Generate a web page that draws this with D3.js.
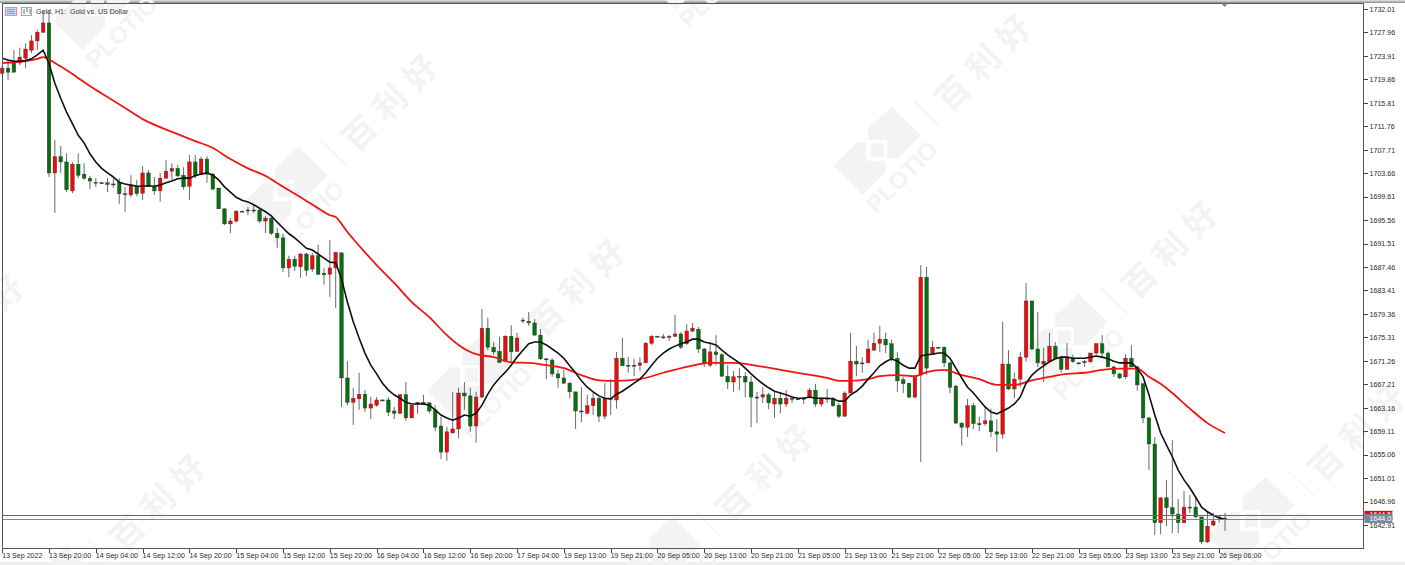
<!DOCTYPE html>
<html>
<head>
<meta charset="utf-8">
<title>Gold, H1</title>
<script src="https://cdnjs.cloudflare.com/ajax/libs/d3/7.8.5/d3.min.js"></script>
<style>
    html, body { margin: 0; padding: 0; background: #fff; overflow: hidden; }
    svg { display: block; }
    .axis text { font-family: "Liberation Sans", sans-serif; font-size: 7.1px; fill: #2a2a2a; }
    .axis path, .axis line { stroke: #444; shape-rendering: crispEdges; }
</style>
</head>
<body>
<svg id="chart" width="1405" height="565"></svg>
<script>
// Hourly bars, oldest first
const opens = [
    1720.9,1721.8,1722.9,1722.7,1723.5,1724.9,1726.5,1728.0,1729.6,1703.7,
    1706.5,1705.6,1700.6,1705.2,1703.5,1702.8,1702.1,1702.0,1702.0,1701.8,
    1702.0,1700.1,1699.9,1701.4,1700.2,1703.7,1701.4,1700.6,1702.8,1704.0,
    1704.5,1703.3,1701.4,1705.6,1703.5,1706.1,1703.5,1701.1,1697.5,1694.9,
    1695.4,1697.1,1697.3,1697.3,1697.3,1695.4,1695.9,1693.3,1692.5,1687.3,
    1688.8,1687.5,1689.7,1687.1,1689.4,1686.4,1686.2,1687.3,1689.9,1668.3,
    1664.1,1664.7,1665.5,1663.1,1663.6,1664.5,1664.5,1662.6,1662.2,1665.4,
    1661.4,1663.8,1664.1,1664.0,1662.8,1660.0,1655.5,1658.8,1659.5,1665.7,
    1665.2,1660.0,1665.0,1676.9,1673.6,1672.9,1671.2,1675.5,1672.9,1678.3,
    1678.1,1677.8,1675.7,1671.6,1671.4,1669.0,1668.3,1667.4,1665.9,1662.6,
    1662.2,1663.5,1664.8,1661.7,1664.8,1664.5,1671.7,1670.5,1670.5,1670.5,
    1670.9,1674.3,1675.5,1675.4,1675.3,1675.5,1675.9,1674.2,1676.4,1676.7,
    1673.3,1670.5,1672.8,1672.3,1668.6,1667.6,1668.5,1668.6,1667.6,1665.0,
    1665.0,1665.4,1663.8,1664.8,1663.8,1664.8,1664.7,1664.8,1665.0,1666.2,
    1663.8,1664.8,1664.7,1663.6,1661.7,1665.7,1671.2,1670.9,1670.9,1673.1,
    1674.3,1675.0,1674.2,1671.7,1668.0,1667.4,1665.0,1668.8,1685.7,1672.4,
    1673.6,1673.6,1670.9,1666.9,1660.5,1659.8,1663.5,1660.4,1660.4,1660.9,
    1659.0,1658.6,1670.7,1666.4,1668.1,1671.9,1681.6,1673.3,1670.7,1671.2,
    1673.8,1671.7,1669.8,1671.6,1670.9,1671.1,1671.1,1672.6,1674.2,1672.6,
    1670.2,1669.0,1668.5,1671.7,1670.2,1667.3,1661.4,1656.9,1643.3,1647.6,
    1645.9,1644.8,1643.3,1646.0,1646.0,1644.3,1640.0,1642.9,1644.3,1644.1
];
const highs = [
    1722.2,1723.2,1724.9,1725.3,1726.1,1727.5,1728.4,1731.8,1731.8,1709.4,
    1708.4,1707.1,1705.6,1707.1,1705.4,1703.2,1702.8,1702.2,1702.8,1702.8,
    1702.8,1701.3,1703.3,1702.5,1704.9,1704.2,1703.0,1703.7,1705.9,1705.4,
    1705.1,1704.7,1706.8,1706.8,1706.5,1706.6,1703.7,1701.1,1697.6,1695.9,
    1697.3,1697.2,1697.8,1698.2,1697.6,1696.3,1696.4,1694.2,1693.2,1689.4,
    1689.4,1689.9,1689.9,1689.9,1691.3,1687.3,1692.1,1690.0,1690.0,1671.2,
    1666.6,1669.2,1666.2,1665.0,1665.0,1664.6,1665.0,1663.3,1665.5,1667.6,
    1663.6,1664.1,1665.4,1664.1,1663.6,1661.6,1659.8,1665.9,1666.6,1667.6,
    1666.6,1665.9,1680.2,1678.7,1674.5,1675.4,1675.7,1677.4,1676.1,1678.7,
    1679.7,1678.5,1676.8,1671.7,1671.7,1669.7,1669.7,1667.6,1665.9,1666.7,
    1665.4,1665.7,1665.0,1667.4,1668.1,1672.8,1675.2,1671.9,1671.6,1671.9,
    1674.5,1675.7,1675.6,1675.9,1675.7,1679.2,1676.2,1677.6,1677.8,1677.1,
    1673.5,1674.5,1675.7,1672.6,1670.5,1669.5,1670.0,1669.3,1668.6,1665.9,
    1666.7,1665.7,1665.9,1665.9,1666.2,1665.2,1664.8,1665.0,1666.6,1667.3,
    1665.0,1666.4,1665.0,1664.0,1666.0,1676.1,1673.8,1671.9,1674.9,1676.1,
    1677.3,1676.1,1674.9,1672.8,1668.5,1667.4,1668.8,1687.8,1687.5,1674.7,
    1673.7,1673.8,1671.1,1667.1,1660.7,1664.7,1664.0,1661.6,1663.5,1663.0,
    1661.2,1678.0,1673.1,1669.2,1672.8,1684.7,1681.6,1679.7,1673.5,1676.1,
    1674.5,1672.1,1674.3,1672.3,1671.0,1671.4,1672.6,1674.3,1675.7,1672.8,
    1670.4,1669.2,1672.4,1674.0,1670.4,1667.4,1661.6,1658.1,1647.7,1650.7,
    1657.6,1647.4,1648.8,1648.1,1647.7,1644.3,1645.2,1645.0,1644.6,1645.0
];
const lows = [
    1720.6,1719.7,1721.1,1722.3,1721.8,1724.4,1724.9,1727.9,1703.0,1696.8,
    1703.7,1700.4,1700.2,1702.8,1702.5,1700.9,1701.3,1701.9,1700.4,1701.1,
    1698.3,1697.0,1699.5,1699.7,1699.0,1701.3,1699.9,1698.7,1702.8,1702.5,
    1703.0,1700.8,1699.0,1702.8,1703.3,1702.0,1700.8,1697.5,1694.7,1693.3,
    1695.1,1697.0,1696.4,1696.8,1695.1,1693.3,1693.0,1690.7,1686.6,1685.7,
    1686.8,1685.6,1685.9,1686.6,1686.1,1684.4,1682.3,1680.4,1663.3,1663.6,
    1660.2,1662.8,1662.4,1661.2,1663.3,1664.4,1661.7,1661.2,1662.1,1660.9,
    1661.4,1662.1,1663.6,1662.2,1659.1,1654.3,1654.0,1658.8,1657.9,1662.8,
    1659.0,1657.1,1664.8,1673.1,1672.3,1670.9,1671.0,1671.0,1672.8,1677.8,
    1677.3,1675.5,1671.4,1668.1,1668.5,1666.6,1667.3,1664.8,1659.5,1660.7,
    1662.1,1661.9,1660.7,1661.2,1661.9,1663.0,1670.4,1669.2,1668.6,1669.5,
    1670.9,1674.0,1675.4,1675.0,1674.7,1675.4,1673.3,1674.0,1676.2,1672.6,
    1670.2,1670.2,1670.5,1668.5,1666.4,1665.9,1666.2,1665.0,1659.8,1660.5,
    1664.0,1662.9,1661.4,1662.2,1663.3,1664.0,1664.6,1663.8,1664.8,1663.3,
    1663.3,1664.0,1663.3,1661.4,1661.6,1665.7,1668.6,1669.2,1670.9,1673.0,
    1672.8,1672.6,1671.2,1665.9,1665.7,1664.8,1664.8,1653.8,1668.8,1672.3,
    1673.5,1670.2,1665.7,1660.4,1656.6,1658.1,1659.5,1659.1,1660.0,1658.1,
    1655.5,1657.8,1666.2,1664.8,1666.7,1671.1,1673.1,1670.2,1667.6,1671.1,
    1671.6,1669.2,1669.7,1670.9,1670.8,1670.2,1670.9,1672.4,1671.9,1670.2,
    1668.5,1668.1,1668.1,1670.2,1666.1,1660.5,1652.4,1641.2,1641.3,1642.7,
    1641.5,1641.5,1643.3,1645.0,1644.1,1639.6,1639.8,1642.7,1643.3,1641.9
];
const closes = [
    1721.8,1721.1,1721.1,1723.7,1725.1,1726.5,1728.0,1729.6,1703.7,1706.5,
    1705.6,1700.8,1705.2,1703.3,1702.8,1702.3,1702.0,1702.0,1701.7,1701.8,
    1700.1,1700.1,1701.4,1700.1,1703.7,1701.4,1700.6,1702.8,1704.0,1704.5,
    1703.2,1701.3,1705.6,1703.2,1706.1,1703.5,1700.9,1697.5,1694.9,1695.4,
    1697.1,1697.1,1697.3,1697.3,1695.4,1695.9,1693.3,1692.5,1687.3,1688.8,
    1687.6,1689.7,1686.9,1689.4,1686.2,1686.1,1687.3,1690.0,1668.3,1664.1,
    1664.8,1665.5,1663.1,1663.8,1664.5,1664.5,1662.4,1662.2,1665.4,1661.4,
    1663.6,1664.1,1663.8,1662.6,1659.8,1655.5,1659.0,1659.5,1665.7,1665.2,
    1660.0,1665.0,1676.9,1673.6,1672.8,1671.0,1675.5,1672.8,1675.2,1678.3,
    1677.8,1675.7,1671.6,1671.6,1669.0,1668.3,1667.4,1665.9,1662.6,1662.6,
    1663.5,1664.8,1661.7,1664.8,1664.8,1671.7,1670.4,1670.5,1670.5,1670.9,
    1674.3,1675.5,1675.5,1675.4,1675.5,1675.9,1673.6,1676.4,1676.9,1673.3,
    1670.9,1672.8,1672.3,1668.6,1667.6,1668.5,1668.6,1667.6,1665.0,1665.0,
    1665.4,1664.0,1664.8,1663.8,1664.8,1664.8,1664.7,1664.8,1666.2,1663.8,
    1664.7,1664.8,1663.5,1661.7,1665.7,1671.2,1670.7,1670.9,1673.3,1674.3,
    1675.0,1674.0,1671.7,1667.8,1667.3,1665.0,1668.6,1685.7,1670.0,1673.6,
    1673.6,1670.9,1666.7,1660.5,1659.8,1663.5,1660.4,1660.4,1660.9,1659.0,
    1658.6,1670.7,1666.4,1668.1,1671.9,1681.6,1673.3,1670.9,1671.2,1673.8,
    1671.7,1669.8,1671.7,1671.1,1670.9,1671.1,1672.6,1674.2,1672.6,1670.2,
    1669.0,1668.3,1671.7,1670.2,1667.1,1661.4,1656.9,1643.3,1647.6,1645.9,
    1644.8,1643.3,1646.0,1646.0,1644.3,1640.0,1642.7,1643.6,1644.3,1644.0
];

// Black fast average, one reading per bar
const fastAverage = [
    1723.5,1723.2,1723.0,1723.0,1723.1,1723.4,1724.1,1724.9,1722.6,1719.2,
    1716.6,1714.2,1712.2,1710.2,1708.9,1707.0,1705.6,1704.5,1703.7,1703.0,
    1702.1,1701.8,1701.6,1701.4,1701.4,1701.5,1701.4,1701.6,1702.0,1702.3,
    1702.7,1702.8,1702.8,1703.2,1703.5,1703.7,1703.3,1702.5,1701.3,1700.4,
    1699.5,1699.0,1698.7,1698.2,1697.6,1697.0,1696.3,1695.2,1694.2,1693.2,
    1692.5,1691.6,1690.7,1690.4,1689.7,1689.0,1688.3,1688.2,1685.4,1681.4,
    1678.0,1675.2,1672.6,1670.5,1669.0,1667.4,1666.2,1665.4,1664.8,1664.1,
    1663.8,1663.8,1663.8,1663.6,1662.8,1661.9,1661.4,1661.0,1661.4,1661.9,
    1661.7,1662.2,1663.6,1665.5,1667.1,1668.3,1669.3,1670.5,1671.9,1673.1,
    1674.2,1674.5,1674.5,1674.0,1673.3,1672.6,1671.7,1670.4,1669.2,1667.8,
    1666.7,1665.9,1665.2,1664.8,1664.7,1665.5,1666.0,1666.7,1667.4,1668.1,
    1669.2,1670.5,1671.7,1672.6,1673.3,1673.8,1674.2,1674.5,1675.0,1675.0,
    1674.5,1674.3,1674.0,1673.1,1672.3,1671.6,1670.9,1670.0,1669.0,1668.1,
    1667.3,1666.6,1666.0,1665.7,1665.4,1665.0,1664.8,1664.8,1665.0,1664.8,
    1664.8,1664.8,1664.7,1664.3,1664.3,1665.4,1666.0,1666.9,1668.1,1669.2,
    1670.4,1671.1,1671.6,1671.2,1670.5,1670.0,1670.0,1672.1,1672.3,1672.4,
    1672.6,1672.6,1671.7,1670.0,1668.3,1666.7,1665.7,1664.5,1663.3,1662.4,
    1662.1,1662.6,1663.1,1663.8,1665.0,1667.4,1668.8,1669.7,1670.4,1671.1,
    1671.6,1671.9,1671.9,1671.7,1671.7,1671.7,1671.9,1672.1,1671.9,1671.6,
    1671.2,1670.9,1670.9,1670.9,1670.0,1668.5,1665.4,1661.9,1658.8,1656.7,
    1654.7,1652.4,1650.7,1649.3,1647.7,1646.0,1645.2,1644.6,1644.1,1643.9
];

// Red slow average, read at the bars listed in slowBars
const slowBars = [
    0,3,6,7,9,12,15,18,21,24,27,30,33,36,39,42,45,48,51,54,56,57,58,59,60,
    62,64,67,70,73,76,78,81,84,87,90,93,96,99,102,105,109,113,117,121,125,
    129,133,137,141,143,145,148,150,153,156,158,161,164,167,170,173,176,179,
    182,185,188,191,194,196,198,200,203,206,209
];
const slowAverage = [
    1722.7,1722.9,1723.4,1723.7,1722.7,1720.8,1718.7,1716.8,1714.9,1713.0,
    1711.6,1710.4,1709.2,1708.0,1706.1,1704.5,1703.2,1701.3,1699.5,1697.6,
    1696.4,1696.1,1694.9,1693.5,1692.3,1690.0,1687.8,1684.7,1681.4,1678.8,
    1675.7,1674.0,1672.4,1671.9,1671.0,1670.9,1670.5,1670.0,1668.8,1667.9,
    1667.8,1668.1,1669.2,1670.2,1670.9,1670.9,1670.4,1669.7,1669.0,1668.3,
    1667.8,1667.8,1668.1,1668.6,1668.8,1668.6,1669.3,1669.7,1668.8,1668.1,
    1667.1,1667.1,1667.9,1668.5,1669.0,1669.2,1669.7,1669.9,1669.9,1668.5,
    1667.3,1665.7,1663.0,1660.5,1658.8
];

const priceTicks = [
    1732.01,1727.96,1723.91,1719.86,1715.81,1711.76,1707.71,1703.66,
    1699.61,1695.56,1691.51,1687.46,1683.41,1679.36,1675.31,1671.26,
    1667.21,1663.16,1659.11,1655.06,1651.01,1646.96,1642.91
];
const timeLabels = [
    "13 Sep 2022","13 Sep 20:00","14 Sep 04:00","14 Sep 12:00","14 Sep 20:00",
    "15 Sep 04:00","15 Sep 12:00","15 Sep 20:00","16 Sep 04:00","16 Sep 12:00",
    "16 Sep 20:00","17 Sep 04:00","19 Sep 13:00","19 Sep 21:00","20 Sep 05:00",
    "20 Sep 13:00","20 Sep 21:00","21 Sep 05:00","21 Sep 13:00","21 Sep 21:00",
    "22 Sep 05:00","22 Sep 13:00","22 Sep 21:00","23 Sep 05:00","23 Sep 13:00",
    "23 Sep 21:00","26 Sep 06:00"
];
const timeBars = timeLabels.map((_, i) => i * 8);

const bidPrice = 1644.03;
const askPrice = 1644.58;

// Chart frame
const frame = { left: 2.5, right: 1363.5, top: 3.5, bottom: 548.5 };

const svg = d3.select("#chart");

const x = d3.scaleLinear().domain([0, 209]).range([2.2, 1225]);
const y = d3.scaleLinear().domain([1642.91, 1732.01]).range([525, 9]);

// 1) Window chrome behind everything
const defs = svg.append("defs");
const topGrad = defs.append("linearGradient").attr("id", "topBand")
    .attr("x1", 0).attr("x2", 0).attr("y1", 0).attr("y2", 1);
topGrad.append("stop").attr("offset", 0).attr("stop-color", "#e6e6e6");
topGrad.append("stop").attr("offset", 1).attr("stop-color", "#8c8c8c");
svg.append("rect").attr("width", 1405).attr("height", 3).attr("fill", "url(#topBand)");
svg.append("rect").attr("y", 562).attr("width", 1405).attr("height", 3).attr("fill", "#f0f0f0");

// 2) Plotio watermark, repeated on a slanted lattice
const markColor = "#f3f3f3";
const logoAnchors = [
    [103, 20], [290, 205], [477, 390], [664, 575],
    [696, -20], [883, 165], [1070, 352], [1257, 535],
    [-124, 425], [58, 605]
];
const marks = svg.append("g").attr("class", "watermarks");
logoAnchors.forEach(([ax, ay]) => {
    const g = marks.append("g").attr("transform", `translate(${ax},${ay})`);
    g.append("path").attr("fill", markColor)
        .attr("d", "M8.7,-58.3L37.7,-30L15.3,-6.7L3.7,-6.7L3.7,-25L-14.7,-25L-14.7,-36.7Z");
    g.append("path").attr("fill", markColor)
        .attr("d", "M-49.7,1L-26.3,-22.7L-17,-22.7L-17,-4.3L2,-4.3L2,7.7L-20.3,30Z");
    g.append("rect").attr("x", -12.3).attr("y", -21.7)
        .attr("width", 13.3).attr("height", 14).attr("fill", markColor);
    g.append("text").text("PLOTIO")
        .attr("transform", "translate(18.7,11.7) rotate(-45)")
        .attr("text-anchor", "middle").attr("dominant-baseline", "central")
        .attr("font-family", "Liberation Sans, sans-serif").attr("font-weight", 700)
        .attr("font-size", 24).attr("fill", markColor);
    g.append("line").attr("x1", 30.3).attr("y1", -65).attr("x2", 57.7).attr("y2", -38.3)
        .attr("stroke", markColor).attr("stroke-width", 1.2);
    g.append("text").text("百利好")
        .attr("transform", "translate(102,-107) rotate(-45)")
        .attr("text-anchor", "middle").attr("dominant-baseline", "central")
        .attr("font-family", "Noto Sans CJK SC, sans-serif").attr("font-weight", 700)
        .attr("font-size", 33).attr("letter-spacing", 10).attr("fill", markColor);
});

// 3) Candles: wick first, body on top
const bars = d3.range(opens.length).map(i => ({
    i, open: opens[i], high: highs[i], low: lows[i], close: closes[i]
}));
const candleWidth = 3.6;

const candles = svg.append("g").attr("class", "candles")
    .selectAll("g").data(bars).join("g");

candles.append("line")
    .attr("x1", d => x(d.i)).attr("x2", d => x(d.i))
    .attr("y1", d => y(d.high)).attr("y2", d => y(d.low))
    .attr("stroke", "#6a6a6a").attr("stroke-width", 1);

candles.append("rect")
    .attr("x", d => x(d.i) - candleWidth / 2)
    .attr("width", candleWidth)
    .attr("y", d => y(Math.max(d.open, d.close)))
    .attr("height", d => Math.max(1, Math.abs(y(d.open) - y(d.close))))
    .attr("fill", d => d.close > d.open ? "#f00a0a" : d.close < d.open ? "#06700e" : "#333")
    .attr("stroke", "#333").attr("stroke-width", 0.4);

// 4) Moving averages
const lineGen = d3.line().x(d => x(d[0])).y(d => y(d[1]));

svg.append("path")
    .datum(slowBars.map((b, i) => [b, slowAverage[i]]))
    .attr("d", lineGen.curve(d3.curveMonotoneX))
    .attr("fill", "none").attr("stroke", "#f21414").attr("stroke-width", 1.8);

svg.append("path")
    .datum(fastAverage.map((v, i) => [i, v]))
    .attr("d", lineGen.curve(d3.curveLinear))
    .attr("fill", "none").attr("stroke", "#111").attr("stroke-width", 1.6);

// 5) Bid / ask lines
svg.append("line")
    .attr("x1", frame.left).attr("x2", frame.right)
    .attr("y1", Math.round(y(askPrice)) + 0.5).attr("y2", Math.round(y(askPrice)) + 0.5)
    .attr("stroke", "#f03030").attr("stroke-width", 1);
svg.append("line")
    .attr("x1", frame.left).attr("x2", frame.right)
    .attr("y1", Math.round(y(bidPrice)) + 0.5).attr("y2", Math.round(y(bidPrice)) + 0.5)
    .attr("stroke", "#778899").attr("stroke-width", 1);

// 6) Frame and axes
svg.append("rect")
    .attr("x", frame.left).attr("y", frame.top)
    .attr("width", frame.right - frame.left).attr("height", frame.bottom - frame.top)
    .attr("fill", "none").attr("stroke", "#555").attr("shape-rendering", "crispEdges");

const yAxis = d3.axisRight(y)
    .tickValues(priceTicks)
    .tickFormat(d3.format(".2f"))
    .tickSize(4).tickPadding(2);
svg.append("g").attr("class", "axis")
    .attr("transform", `translate(${frame.right},0)`)
    .call(yAxis)
    .call(g => g.select(".domain").remove());

const xAxis = d3.axisBottom(x)
    .tickValues(timeBars)
    .tickFormat((d, i) => timeLabels[i])
    .tickSize(4).tickPadding(0);
svg.append("g").attr("class", "axis")
    .attr("transform", `translate(0,${frame.bottom})`)
    .call(xAxis)
    .call(g => g.select(".domain").remove())
    .call(g => g.selectAll("text").attr("text-anchor", "start").attr("x", -0.5));

// 7) Price tags on the right axis
[[askPrice, "#f00000"], [bidPrice, "#778899"]].forEach(([price, fill]) => {
    const tag = svg.append("g")
        .attr("transform", `translate(${frame.right + 1},${y(price)})`);
    tag.append("rect").attr("y", -4.5).attr("width", 28).attr("height", 9).attr("fill", fill);
    tag.append("text").text(price.toFixed(2))
        .attr("x", 5).attr("dominant-baseline", "central")
        .attr("font-family", "Liberation Sans, sans-serif").attr("font-size", 7.1).attr("fill", "#fff");
});

// 8) Little chart window icons and the title
const icons = svg.append("g").attr("class", "icons");
icons.append("rect").attr("x", 5.5).attr("y", 7.5).attr("width", 11).attr("height", 8)
    .attr("fill", "#cfe0f5").attr("stroke", "#f08a8a");
d3.range(3).forEach(k => {
    icons.append("line").attr("x1", 7).attr("x2", 15)
        .attr("y1", 9.5 + k * 2).attr("y2", 9.5 + k * 2)
        .attr("stroke", "#f07070");
});
icons.append("rect").attr("x", 21.5).attr("y", 7.5).attr("width", 10).attr("height", 8)
    .attr("fill", "#fff").attr("stroke", "#f08a8a");
icons.append("path").attr("d", "M24,9V14M27,8V12M30,9V14")
    .attr("stroke", "#5a8fc8").attr("stroke-width", 1.2).attr("fill", "none");

svg.append("text").text("Gold, H1:  Gold vs. US Dollar")
    .attr("x", 36).attr("y", 14)
    .attr("xml:space", "preserve")
    .attr("font-family", "Liberation Sans, sans-serif").attr("font-size", 7.1).attr("fill", "#333");

// Small marker hanging from the top edge, over the last bars
svg.append("path").attr("d", "M1221,3.5H1228L1224.5,7Z").attr("fill", "#7d8a97");
</script>
</body>
</html>
